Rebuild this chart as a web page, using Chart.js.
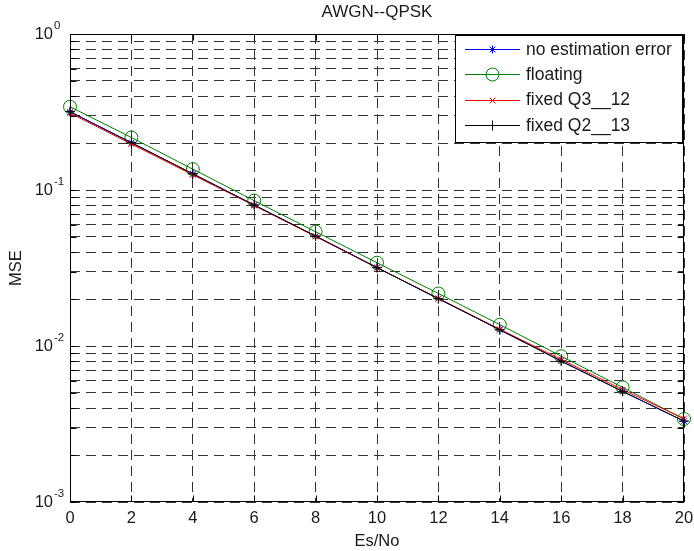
<!DOCTYPE html>
<html><head><meta charset="utf-8">
<script src="https://cdn.jsdelivr.net/npm/chart.js@4/dist/chart.umd.min.js"></script>
<style>html,body{margin:0;padding:0;background:#fff}canvas{display:block}</style>
</head><body>
<canvas id="c" width="694" height="551"></canvas>
<script>
// ---- data ----
const snrDb = [0, 2, 4, 6, 8, 10, 12, 14, 16, 18, 20];
const mseNoError  = [0.317, 0.201, 0.127, 0.0801, 0.0506, 0.0318, 0.0201, 0.0127, 0.0080, 0.00511, 0.00330];
const mseFloating = [0.342, 0.217, 0.136, 0.0855, 0.0540, 0.0342, 0.0217, 0.0137, 0.0086, 0.00543, 0.00340];
const mseQ3_12    = [0.311, 0.197, 0.125, 0.0795, 0.0503, 0.0318, 0.0202, 0.0128, 0.0082, 0.00525, 0.00342];
const mseQ2_13    = [0.318, 0.201, 0.127, 0.0801, 0.0507, 0.0318, 0.0201, 0.0127, 0.0080, 0.00512, 0.00330];
const seriesLabels = ['no estimation error', 'floating', 'fixed Q3__12', 'fixed Q2__13'];
const xTicks = [0, 2, 4, 6, 8, 10, 12, 14, 16, 18, 20];
const yMajorTicks = [1, 0.1, 0.01, 0.001];
const yMajorExponents = ['0', '-1', '-2', '-3'];
const yGridTicks = [0.001, 0.002, 0.003, 0.004, 0.005, 0.006, 0.007, 0.008, 0.009,
                    0.01, 0.02, 0.03, 0.04, 0.05, 0.06, 0.07, 0.08, 0.09,
                    0.1, 0.2, 0.3, 0.4, 0.5, 0.6, 0.7, 0.8, 0.9, 1];
const titleText = 'AWGN--QPSK';
const xTitleText = 'Es/No';
const yTitleText = 'MSE';

// ---- drawing ----
const FONT = '"Liberation Sans", Arial, Helvetica, sans-serif';
const TEXT = '#1a1a1a';

function pts(arr) { return snrDb.map((x, i) => ({ x: x, y: arr[i] })); }

function drawMarker(ctx, style, x, y, r, color) {
  ctx.save();
  ctx.strokeStyle = color; ctx.lineWidth = 1; ctx.beginPath();
  const d = r * Math.SQRT1_2;
  if (style === 'circle') { ctx.arc(x, y, r, 0, Math.PI * 2); }
  if (style === 'cross' || style === 'star') { ctx.moveTo(x - r, y); ctx.lineTo(x + r, y); ctx.moveTo(x, y - r); ctx.lineTo(x, y + r); }
  if (style === 'crossRot' || style === 'star') { ctx.moveTo(x - d, y - d); ctx.lineTo(x + d, y + d); ctx.moveTo(x - d, y + d); ctx.lineTo(x + d, y - d); }
  ctx.stroke(); ctx.restore();
}

const matlabPlugin = {
  id: 'matlab',
  beforeDraw(chart) {
    const c = chart.ctx; c.save(); c.fillStyle = '#fff'; c.fillRect(0, 0, chart.width, chart.height); c.restore();
  },
  afterDraw(chart) {
    const ctx = chart.ctx, a = chart.chartArea;
    const xs = chart.scales.x, ys = chart.scales.y;
    ctx.save();
    // axes box
    ctx.strokeStyle = '#000'; ctx.lineWidth = 1;
    const L = Math.round(a.left) + 0.5, R = Math.round(a.right) - 0.5, T = Math.round(a.top) + 0.5, B = Math.round(a.bottom) - 0.5;
    ctx.strokeRect(L, T, R - L, B - T);
    // inward tick marks
    ctx.beginPath();
    yGridTicks.forEach(v => {
      const y = Math.round(ys.getPixelForValue(v)) + 0.5;
      ctx.moveTo(L, y); ctx.lineTo(L + 6, y);
      ctx.moveTo(R, y); ctx.lineTo(R - 6, y);
    });
    xTicks.forEach(v => {
      const x = Math.round(xs.getPixelForValue(v)) + 0.5;
      ctx.moveTo(x, B); ctx.lineTo(x, B - 6);
      ctx.moveTo(x, T); ctx.lineTo(x, T + 6);
    });
    ctx.stroke();
    // x tick labels
    ctx.fillStyle = TEXT;
    ctx.font = '16.5px ' + FONT; ctx.textAlign = 'center'; ctx.textBaseline = 'alphabetic';
    xTicks.forEach(v => ctx.fillText(String(v), xs.getPixelForValue(v), a.bottom + 21));
    // y tick labels with superscripts
    yMajorTicks.forEach((v, i) => {
      const y = ys.getPixelForValue(v);
      ctx.font = '16.5px ' + FONT; ctx.textAlign = 'right';
      ctx.fillText('10', a.left - 17, y + 5);
      ctx.font = '11.5px ' + FONT; ctx.textAlign = 'left';
      ctx.fillText(yMajorExponents[i], a.left - 16, y - 5);
    });
    // titles
    ctx.font = '17px ' + FONT; ctx.textAlign = 'center';
    const cx = (a.left + a.right) / 2;
    ctx.fillText(titleText, cx, 17);
    ctx.font = '16.5px ' + FONT;
    ctx.fillText(xTitleText, cx, 546);
    ctx.save(); ctx.translate(21, (a.top + a.bottom) / 2); ctx.rotate(-Math.PI / 2);
    ctx.fillText(yTitleText, 0, 0); ctx.restore();
    // legend
    const lx = 455.5, ly = 35.5, lw = 227, lh = 107;
    ctx.fillStyle = '#fff'; ctx.fillRect(lx, ly, lw, lh);
    ctx.strokeStyle = '#000'; ctx.strokeRect(lx, ly, lw, lh);
    chart.data.datasets.forEach((ds, i) => {
      const y = 49 + i * 25.3;
      ctx.strokeStyle = ds.borderColor; ctx.lineWidth = 1;
      ctx.beginPath(); ctx.moveTo(465, Math.round(y) + 0.5); ctx.lineTo(520, Math.round(y) + 0.5); ctx.stroke();
      drawMarker(ctx, ds.pointStyle, 492.5, Math.round(y) + 0.5, ds.pointRadius, ds.borderColor);
      ctx.fillStyle = TEXT; ctx.font = '17.5px ' + FONT; ctx.textAlign = 'left'; ctx.textBaseline = 'middle';
      ctx.fillText(ds.label, 526, y + 1);
    });
    ctx.restore();
  }
};

const gridColor = '#333';
new Chart(document.getElementById('c'), {
  type: 'line',
  data: {
    datasets: [
      { label: seriesLabels[0], data: pts(mseNoError), borderColor: '#0000ff', backgroundColor: '#0000ff', pointStyle: 'star', pointRadius: 4, pointBorderWidth: 1, borderWidth: 1, clip: false, order: 3 },
      { label: seriesLabels[1], data: pts(mseFloating), borderColor: '#008000', backgroundColor: 'rgba(0,0,0,0)', pointBackgroundColor: 'rgba(0,0,0,0)', pointStyle: 'circle', pointRadius: 6.5, pointBorderWidth: 1, borderWidth: 1, clip: false, order: 2 },
      { label: seriesLabels[2], data: pts(mseQ3_12), borderColor: '#ff0000', backgroundColor: '#ff0000', pointStyle: 'crossRot', pointRadius: 4, pointBorderWidth: 1, borderWidth: 1, clip: false, order: 1 },
      { label: seriesLabels[3], data: pts(mseQ2_13), borderColor: '#000000', backgroundColor: '#000000', pointStyle: 'cross', pointRadius: 5, pointBorderWidth: 1, borderWidth: 1, clip: false, order: 0 }
    ]
  },
  options: {
    responsive: false, animation: false, devicePixelRatio: 1, events: [],
    layout: { padding: { left: 70, top: 34, right: 10, bottom: 49 } },
    plugins: { legend: { display: false }, title: { display: false }, tooltip: { enabled: false } },
    elements: { line: { tension: 0 } },
    scales: {
      x: {
        type: 'linear', min: 0, max: 20,
        afterBuildTicks: s => { s.ticks = xTicks.map(v => ({ value: v })); },
        ticks: { display: false },
        grid: { drawTicks: false, color: gridColor, lineWidth: 1 },
        border: { display: false, dash: [10, 6] }
      },
      y: {
        type: 'logarithmic', min: 0.001, max: 1,
        afterBuildTicks: s => { s.ticks = yGridTicks.map(v => ({ value: v })); },
        ticks: { display: false },
        grid: { drawTicks: false, color: gridColor, lineWidth: 1 },
        border: { display: false, dash: [10, 6] }
      }
    }
  },
  plugins: [matlabPlugin]
});
</script>
</body></html>
